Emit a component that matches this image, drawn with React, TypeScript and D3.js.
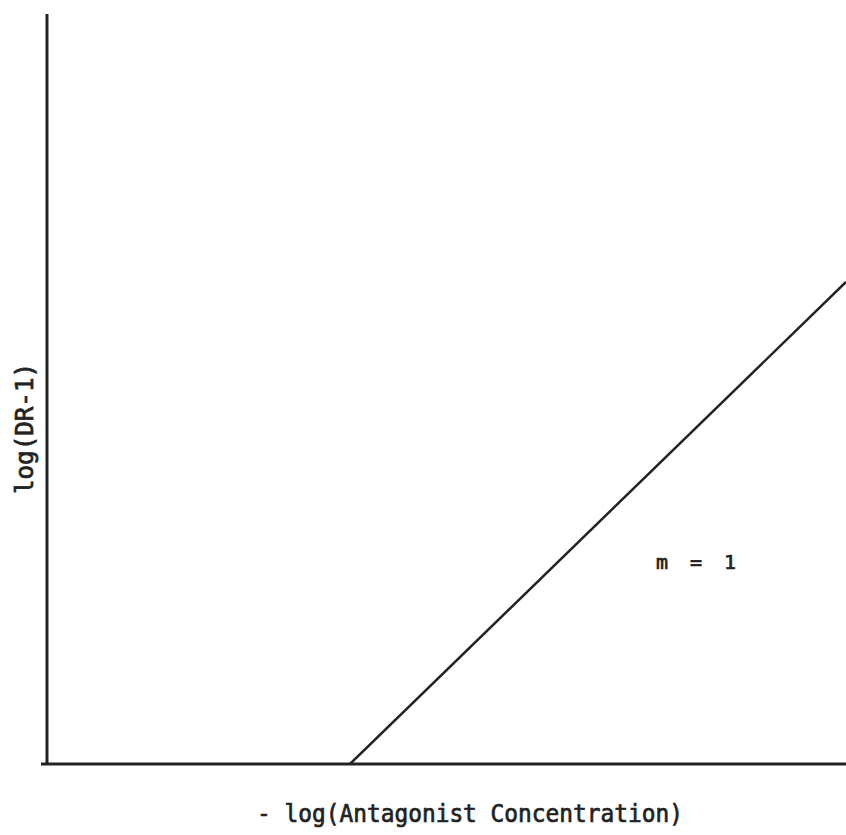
import React from "react";
import * as d3 from "d3";

const linePoints = [
  { x: 3, y: 0 },
  { x: 8, y: 5 },
];
const xLabel = "- log(Antagonist Concentration)";
const yLabel = "log(DR-1)";
const slopeLabel = "m = 1";

export default function App() {
  const W = 846;
  const H = 835;
  const x = d3.scaleLinear().domain([0, 8]).range([52.4, 846]);
  const y = d3.scaleLinear().domain([0, 5]).range([764, 282]);
  const line = d3
    .line<{ x: number; y: number }>()
    .x((d) => x(d.x))
    .y((d) => y(d.y));
  const font = "'DejaVu Sans Mono', 'Liberation Mono', monospace";
  const textStyle = { stroke: "#222", strokeWidth: 0.7 };
  return (
    <svg
      width={W}
      height={H}
      style={{ position: "absolute", left: 0, top: 0, background: "#fff" }}
    >
      <rect width={W} height={H} fill="#fff" />
      <line x1={47} y1={14} x2={47} y2={765} stroke="#222" strokeWidth={3} />
      <line x1={41} y1={764} x2={846} y2={764} stroke="#222" strokeWidth={3} />
      <path d={line(linePoints) || ""} fill="none" stroke="#222" strokeWidth={2.5} />
      <text
        x={257}
        y={822}
        textAnchor="start"
        fontFamily={font}
        fontSize={24}
        textLength={426}
        lengthAdjust="spacingAndGlyphs"
        fill="#222"
        style={textStyle}
      >
        {xLabel}
      </text>
      <text
        transform="translate(33,494) rotate(-90)"
        textAnchor="start"
        fontFamily={font}
        fontSize={24}
        textLength={131}
        lengthAdjust="spacingAndGlyphs"
        fill="#222"
        style={textStyle}
      >
        {yLabel}
      </text>
      <text
        x={656}
        y={569}
        textAnchor="start"
        fontFamily={font}
        fontSize={20}
        textLength={80}
        lengthAdjust="spacing"
        fill="#222"
        style={textStyle}
      >
        {slopeLabel}
      </text>
    </svg>
  );
}
